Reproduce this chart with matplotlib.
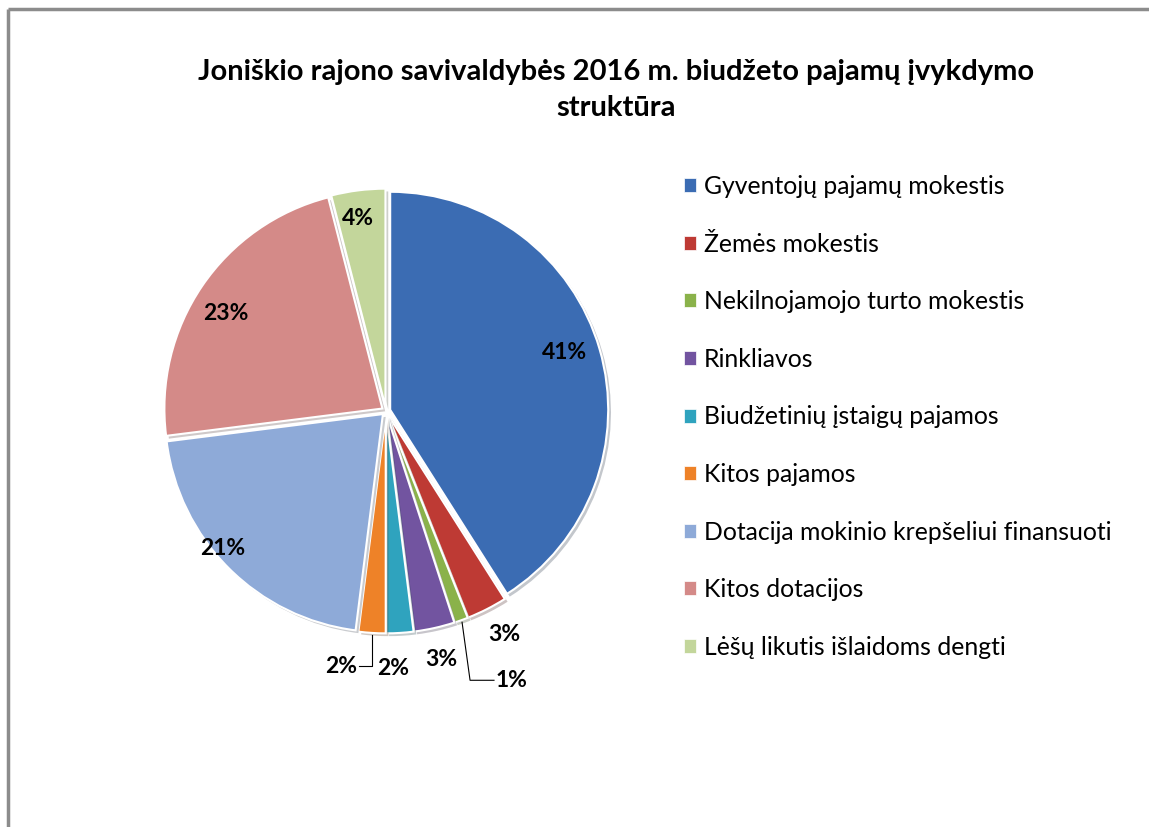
import numpy as np
import matplotlib
matplotlib.use("Agg")
import matplotlib.pyplot as plt
from matplotlib.patches import Patch
import matplotlib.patheffects as pe

# Data
CATEGORIES = [
    "Gyventojų pajamų mokestis",
    "Žemės mokestis",
    "Nekilnojamojo turto mokestis",
    "Rinkliavos",
    "Biudžetinių įstaigų pajamos",
    "Kitos pajamos",
    "Dotacija mokinio krepšeliui finansuoti",
    "Kitos dotacijos",
    "Lėšų likutis išlaidoms dengti",
]
SHARES = [41, 3, 1, 3, 2, 2, 21, 23, 4]

COLORS = ["#3B6CB3", "#BE3A34", "#8AB24A", "#7254A0", "#2FA3BE",
          "#EE8228", "#8EAAD8", "#D48A88", "#C3D69B"]

TITLE = "Joniškio rajono savivaldybės 2016 m. biudžeto pajamų įvykdymo\nstruktūra"

# label placement (fraction of radius, angle shift in degrees, leader line?)
LABEL_R     = [0.84, 1.14, 1.34, 1.15, 1.16, 1.17, 0.96, 0.84, 0.87]
LABEL_SHIFT = [-2, -1, -5, 0, 2, 7, 5, -3, -1]
LEADER      = [False, False, True, False, False, True, False, False, False]

FONT = ["Lato", "DejaVu Sans"]
plt.rcParams['font.family'] = FONT

W, H = 1149, 827
fig = plt.figure(figsize=(W / 100, H / 100), dpi=100)
ax = fig.add_axes([0, 0, 1, 1])

cx, cy, R = 386, H - 411, 218
wedges, _ = ax.pie(SHARES, colors=COLORS, startangle=90, counterclock=False,
                   center=(cx, cy), radius=R, explode=[0.02 * R] * len(SHARES),
                   wedgeprops=dict(edgecolor="white", linewidth=1.5))
for w in wedges:
    w.set_path_effects([pe.SimplePatchShadow(offset=(2, -2), alpha=0.25),
                        pe.Normal()])

ax.set_xlim(0, W)
ax.set_ylim(0, H)
ax.set_aspect('equal')
ax.axis('off')

# frame of the chart area (only top and left visible in the crop)
ax.plot([8, W], [H - 9, H - 9], color="#8C8C8C", lw=2.5, solid_capstyle='butt')
ax.plot([8, 8], [0, H - 9], color="#8C8C8C", lw=2.5, solid_capstyle='butt')

for w, pct, lr, sh, lead in zip(wedges, SHARES, LABEL_R, LABEL_SHIFT, LEADER):
    mid = np.deg2rad((w.theta1 + w.theta2) / 2)
    ang = mid + np.deg2rad(-sh)
    wx, wy = w.center
    tx, ty = wx + lr * R * np.cos(ang), wy + lr * R * np.sin(ang)
    if lead:
        ex = wx + 1.01 * R * np.cos(mid)
        ey = wy + 1.01 * R * np.sin(mid)
        if tx > ex:
            ax.plot([ex, ex + 8, tx - 16], [ey, ty, ty], color="black", lw=0.8)
            ha, tx = "left", tx - 14
        else:
            ax.plot([ex, ex, tx + 20], [ey, ty, ty], color="black", lw=0.8)
            ha, tx = "right", tx + 18
    else:
        ha = "center"
    ax.text(tx, ty, f"{pct}%", ha=ha, va="center", fontsize=16.5,
            fontweight="bold", color="black")

ax.text(616, H - 90, TITLE, ha="center", va="center", fontsize=21,
        fontweight="bold", linespacing=1.45)

handles = [Patch(facecolor=c, edgecolor="white", lw=0.5) for c in COLORS]
fig.legend(handles, CATEGORIES, loc="upper left", bbox_to_anchor=(674 / W, 1 - 165 / H),
           frameon=False, fontsize=17.8, handlelength=0.5, handleheight=0.5,
           handletextpad=0.3, labelspacing=1.40, borderaxespad=0)

fig.savefig("out.png", dpi=100)
